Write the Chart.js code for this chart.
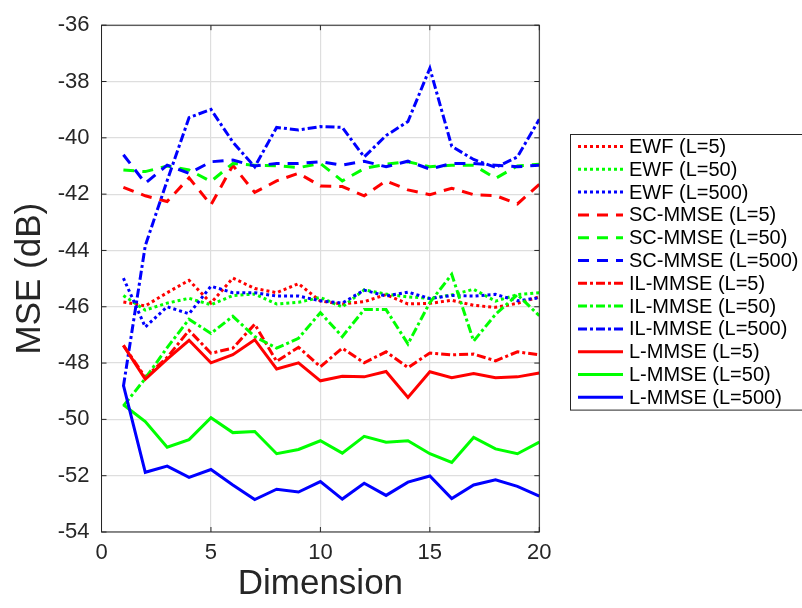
<!DOCTYPE html>
<html>
<head>
<meta charset="utf-8">
<script src="https://cdn.jsdelivr.net/npm/chart.js@4.4.1/dist/chart.umd.min.js"></script>
<style>
  html, body { margin: 0; padding: 0; background: #fff; }
  canvas { display: block; }
</style>
</head>
<body>
<canvas id="mseChart" width="802" height="608"></canvas>
<script>
// Axis ticks
const xTicks = [0, 5, 10, 15, 20];
const yTicks = [-54, -52, -50, -48, -46, -44, -42, -40, -38, -36];

// Dimension values (x)
const dims = [1, 2, 3, 4, 5, 6, 7, 8, 9, 10, 11, 12, 13, 14, 15, 16, 17, 18, 19, 20];

// MSE in dB per estimator
const ewf5    = [-45.83, -45.97, -45.50, -45.06, -45.87, -44.98, -45.35, -45.50, -45.18, -45.80, -45.90, -45.82, -45.57, -45.90, -45.88, -45.77, -45.95, -46.02, -45.88, -45.65];
const ewf50   = [-45.60, -46.12, -45.87, -45.70, -45.93, -45.60, -45.55, -45.90, -45.84, -45.67, -46.01, -45.40, -45.55, -45.65, -45.70, -45.58, -45.38, -45.80, -45.57, -45.50];
const ewf500  = [-44.98, -46.72, -46.00, -46.25, -45.27, -45.50, -45.50, -45.62, -45.62, -45.79, -45.87, -45.41, -45.62, -45.48, -45.71, -45.60, -45.62, -45.56, -45.79, -45.68];
const sc5     = [-41.76, -42.06, -42.26, -41.42, -42.38, -40.98, -41.94, -41.53, -41.26, -41.71, -41.73, -42.06, -41.53, -41.85, -42.02, -41.79, -42.02, -42.05, -42.35, -41.65];
const sc50    = [-41.14, -41.20, -41.00, -41.14, -41.55, -40.91, -40.97, -40.99, -41.06, -40.91, -41.53, -41.09, -40.94, -40.85, -41.03, -40.97, -40.97, -41.44, -41.00, -40.94];
const sc500   = [-40.60, -41.61, -40.97, -41.26, -40.85, -40.79, -41.00, -40.91, -40.91, -40.85, -40.97, -40.83, -41.03, -40.83, -41.11, -40.91, -40.91, -40.97, -41.03, -40.97];
const il5     = [-47.37, -48.50, -47.80, -46.84, -47.65, -47.47, -46.62, -47.94, -47.44, -48.13, -47.47, -47.99, -47.60, -48.16, -47.64, -47.71, -47.68, -47.92, -47.60, -47.71];
const il50    = [-49.52, -48.55, -47.45, -46.44, -46.95, -46.34, -47.06, -47.47, -47.12, -46.21, -47.06, -46.10, -46.10, -47.32, -45.85, -44.85, -47.22, -46.27, -45.57, -46.32];
const il500   = [-48.83, -43.83, -41.52, -39.28, -38.99, -40.15, -41.03, -39.63, -39.72, -39.60, -39.63, -40.68, -39.92, -39.42, -37.53, -40.30, -40.77, -41.05, -40.68, -39.34];
const lmmse5  = [-47.37, -48.57, -47.86, -47.19, -47.99, -47.70, -47.17, -48.21, -47.99, -48.63, -48.47, -48.49, -48.30, -49.22, -48.31, -48.52, -48.37, -48.52, -48.49, -48.35];
const lmmse50 = [-49.48, -50.08, -50.99, -50.72, -49.94, -50.47, -50.43, -51.22, -51.07, -50.76, -51.20, -50.60, -50.81, -50.76, -51.22, -51.53, -50.64, -51.05, -51.22, -50.81];
const lmmse500 = [-48.78, -51.88, -51.66, -52.06, -51.78, -52.33, -52.85, -52.48, -52.58, -52.21, -52.83, -52.27, -52.70, -52.23, -52.01, -52.81, -52.33, -52.15, -52.38, -52.73];

const RED = '#ff0000', GREEN = '#00ff00', BLUE = '#0000ff';
const INK = '#262626';
const FONT = "'Liberation Sans', Arial, Helvetica, sans-serif";

// line styles
const DOTTED = [3, 3];
const DASHED = [11, 8];
const DASHDOT = [9, 3, 3, 3];
const SOLID = [];

const series = [
  { label: 'EWF (L=5)',          data: ewf5,     color: RED,   dash: DOTTED },
  { label: 'EWF (L=50)',         data: ewf50,    color: GREEN, dash: DOTTED },
  { label: 'EWF (L=500)',        data: ewf500,   color: BLUE,  dash: DOTTED },
  { label: 'SC-MMSE (L=5)',      data: sc5,      color: RED,   dash: DASHED },
  { label: 'SC-MMSE (L=50)',     data: sc50,     color: GREEN, dash: DASHED },
  { label: 'SC-MMSE (L=500)',    data: sc500,    color: BLUE,  dash: DASHED },
  { label: 'IL-MMSE (L=5)',      data: il5,      color: RED,   dash: DASHDOT },
  { label: 'IL-MMSE (L=50)',     data: il50,     color: GREEN, dash: DASHDOT },
  { label: 'IL-MMSE (L=500)',    data: il500,    color: BLUE,  dash: DASHDOT },
  { label: 'L-MMSE (L=5)',       data: lmmse5,   color: RED,   dash: SOLID },
  { label: 'L-MMSE (L=50)',      data: lmmse50,  color: GREEN, dash: SOLID },
  { label: 'L-MMSE (L=500)',     data: lmmse500, color: BLUE,  dash: SOLID }
];

const LINE_W = 3;

const datasets = series.map((s, i) => ({
  label: s.label,
  data: dims.map((d, k) => ({ x: d, y: s.data[k] })),
  borderColor: s.color,
  backgroundColor: s.color,
  borderWidth: LINE_W,
  borderDash: s.dash,
  borderCapStyle: 'butt',
  borderJoinStyle: 'miter',
  pointRadius: 0,
  tension: 0,
  fill: false,
  order: series.length - 1 - i
}));

// box around the axes, inward ticks, and the boxed legend
const framePlugin = {
  id: 'frame',
  afterDraw(chart) {
    const { ctx, chartArea: a, scales: { x, y } } = chart;
    ctx.save();
    ctx.strokeStyle = INK;
    ctx.lineWidth = 1;
    ctx.setLineDash([]);
    ctx.strokeRect(a.left, a.top, a.right - a.left, a.bottom - a.top);

    const t = 5;
    ctx.beginPath();
    xTicks.forEach(v => {
      const px = x.getPixelForValue(v);
      ctx.moveTo(px, a.bottom); ctx.lineTo(px, a.bottom - t);
      ctx.moveTo(px, a.top);    ctx.lineTo(px, a.top + t);
    });
    yTicks.forEach(v => {
      const py = y.getPixelForValue(v);
      ctx.moveTo(a.left, py);  ctx.lineTo(a.left + t, py);
      ctx.moveTo(a.right, py); ctx.lineTo(a.right - t, py);
    });
    ctx.stroke();

    // legend
    const lx = 570.5, ly = 134.5, lw = 240, rowH = 22.8;
    const lh = rowH * series.length + 2;
    ctx.fillStyle = '#fff';
    ctx.fillRect(lx, ly, lw, lh);
    ctx.strokeStyle = INK;
    ctx.strokeRect(lx, ly, lw, lh);

    ctx.font = '20px ' + FONT;
    ctx.textBaseline = 'middle';
    ctx.textAlign = 'left';
    series.forEach((s, i) => {
      const cy = ly + 12 + i * rowH;
      ctx.beginPath();
      ctx.strokeStyle = s.color;
      ctx.lineWidth = LINE_W;
      ctx.lineCap = 'butt';
      ctx.setLineDash(s.dash);
      ctx.moveTo(578, cy);
      ctx.lineTo(623, cy);
      ctx.stroke();
      ctx.fillStyle = '#000';
      ctx.fillText(s.label, 629, cy + 1);
    });
    ctx.restore();
  }
};

const ctx = document.getElementById('mseChart').getContext('2d');
new Chart(ctx, {
  type: 'line',
  data: { datasets },
  plugins: [framePlugin],
  options: {
    responsive: false,
    animation: false,
    events: [],
    layout: { padding: { top: 16, right: 262.7, left: 0, bottom: 0 } },
    plugins: {
      legend: { display: false },
      tooltip: { enabled: false }
    },
    scales: {
      x: {
        type: 'linear',
        min: 0,
        max: 20,
        afterBuildTicks: s => { s.ticks = xTicks.map(v => ({ value: v })); },
        afterFit: s => { s.height = 76; },
        grid: { color: '#dedede', lineWidth: 1.2, drawTicks: false },
        border: { display: false },
        ticks: { color: INK, font: { family: FONT, size: 22 }, padding: 8, maxRotation: 0 },
        title: {
          display: true,
          text: 'Dimension',
          color: INK,
          font: { family: FONT, size: 35 },
          padding: { top: 0, bottom: 3 }
        }
      },
      y: {
        type: 'linear',
        min: -54,
        max: -36,
        afterBuildTicks: s => { s.ticks = yTicks.map(v => ({ value: v })); },
        afterFit: s => { s.width = 101.5; },
        grid: { color: '#dedede', lineWidth: 1.2, drawTicks: false },
        border: { display: false },
        ticks: { color: INK, font: { family: FONT, size: 22 }, padding: 12 },
        title: {
          display: true,
          text: 'MSE (dB)',
          color: INK,
          font: { family: FONT, size: 35 },
          padding: { top: 9, bottom: 0 }
        }
      }
    }
  }
});
</script>
</body>
</html>
